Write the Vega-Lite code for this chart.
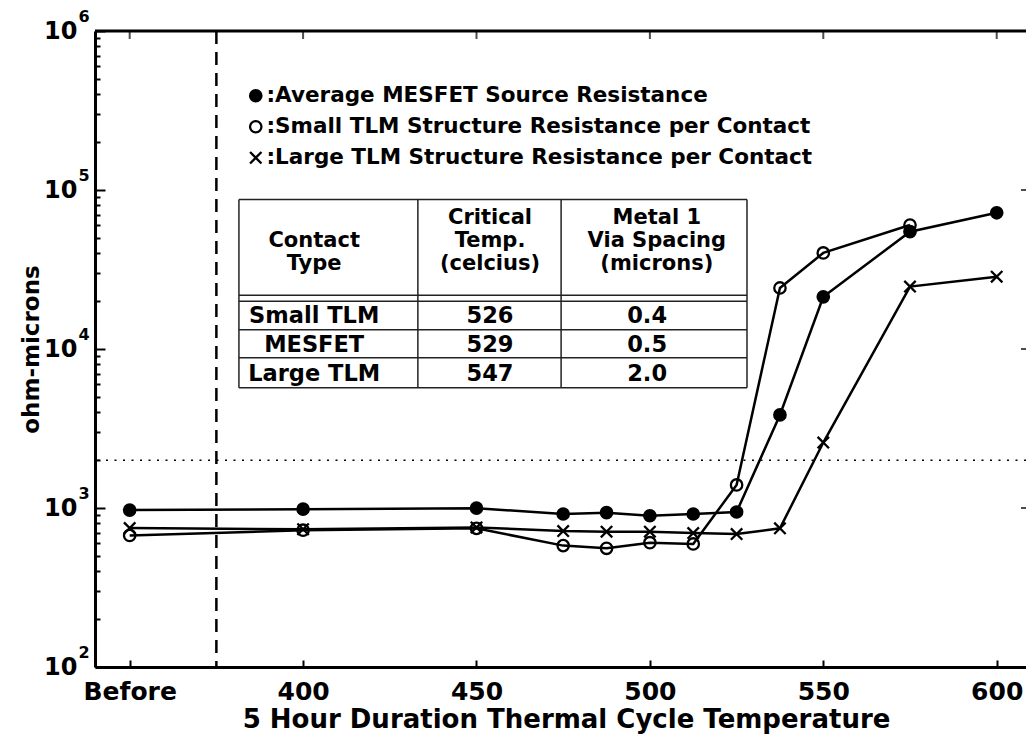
{
  "$schema": "https://vega.github.io/schema/vega-lite/v6.json",
  "width": 931,
  "height": 636,
  "autosize": {"type": "none"},
  "padding": {"left": 95, "top": 31, "right": 0, "bottom": 67},
  "background": "white",
  "config": {"view": {"stroke": null}, "font": "DejaVu Sans"},
  "datasets": {
    "series": [
      {"series": "Average MESFET Source Resistance", "temp": 350, "ohm": 970},
      {"series": "Average MESFET Source Resistance", "temp": 400, "ohm": 983},
      {"series": "Average MESFET Source Resistance", "temp": 450, "ohm": 998},
      {"series": "Average MESFET Source Resistance", "temp": 475, "ohm": 917},
      {"series": "Average MESFET Source Resistance", "temp": 487.5, "ohm": 935},
      {"series": "Average MESFET Source Resistance", "temp": 500, "ohm": 894},
      {"series": "Average MESFET Source Resistance", "temp": 512.5, "ohm": 917},
      {"series": "Average MESFET Source Resistance", "temp": 525, "ohm": 944},
      {"series": "Average MESFET Source Resistance", "temp": 537.5, "ohm": 3850},
      {"series": "Average MESFET Source Resistance", "temp": 550, "ohm": 21300},
      {"series": "Average MESFET Source Resistance", "temp": 575, "ohm": 54700},
      {"series": "Average MESFET Source Resistance", "temp": 600, "ohm": 71900},
      {"series": "Small TLM Structure Resistance per Contact", "temp": 350, "ohm": 672},
      {"series": "Small TLM Structure Resistance per Contact", "temp": 400, "ohm": 725},
      {"series": "Small TLM Structure Resistance per Contact", "temp": 450, "ohm": 745},
      {"series": "Small TLM Structure Resistance per Contact", "temp": 475, "ohm": 580},
      {"series": "Small TLM Structure Resistance per Contact", "temp": 487.5, "ohm": 558},
      {"series": "Small TLM Structure Resistance per Contact", "temp": 500, "ohm": 605},
      {"series": "Small TLM Structure Resistance per Contact", "temp": 512.5, "ohm": 594},
      {"series": "Small TLM Structure Resistance per Contact", "temp": 525, "ohm": 1396},
      {"series": "Small TLM Structure Resistance per Contact", "temp": 537.5, "ohm": 24200},
      {"series": "Small TLM Structure Resistance per Contact", "temp": 550, "ohm": 40200},
      {"series": "Small TLM Structure Resistance per Contact", "temp": 575, "ohm": 60200},
      {"series": "Large TLM Structure Resistance per Contact", "temp": 350, "ohm": 748},
      {"series": "Large TLM Structure Resistance per Contact", "temp": 400, "ohm": 735},
      {"series": "Large TLM Structure Resistance per Contact", "temp": 450, "ohm": 755},
      {"series": "Large TLM Structure Resistance per Contact", "temp": 475, "ohm": 716},
      {"series": "Large TLM Structure Resistance per Contact", "temp": 487.5, "ohm": 710},
      {"series": "Large TLM Structure Resistance per Contact", "temp": 500, "ohm": 710},
      {"series": "Large TLM Structure Resistance per Contact", "temp": 512.5, "ohm": 696},
      {"series": "Large TLM Structure Resistance per Contact", "temp": 525, "ohm": 686},
      {"series": "Large TLM Structure Resistance per Contact", "temp": 537.5, "ohm": 745},
      {"series": "Large TLM Structure Resistance per Contact", "temp": 550, "ohm": 2580},
      {"series": "Large TLM Structure Resistance per Contact", "temp": 575, "ohm": 24700},
      {"series": "Large TLM Structure Resistance per Contact", "temp": 600, "ohm": 28500}
    ],
    "table": [
      {"contact": "Small TLM", "critical": "526", "spacing": "0.4"},
      {"contact": "MESFET", "critical": "529", "spacing": "0.5"},
      {"contact": "Large TLM", "critical": "547", "spacing": "2.0"}
    ],
    "xticks": [{"t": 350}, {"t": 400}, {"t": 450}, {"t": 500}, {"t": 550}, {"t": 600}],
    "rticks": [{"v": 1000}, {"v": 10000}, {"v": 100000}],
    "decades": [
      {"v": 100, "e": "2"}, {"v": 1000, "e": "3"}, {"v": 10000, "e": "4"},
      {"v": 100000, "e": "5"}, {"v": 1000000, "e": "6"}
    ]
  },
  "resolve": {"scale": {"y": "independent"}},
  "layer": [
    {
      "layer": [
        {
          "data": {"name": "series"},
          "mark": {"type": "line", "color": "black", "strokeWidth": 2.5},
          "encoding": {
            "x": {
              "field": "temp", "type": "quantitative",
              "scale": {"domain": [340, 608.45], "nice": false, "zero": false},
              "axis": {
                "values": [350, 400, 450, 500, 550, 600],
                "labelExpr": "datum.value == 350 ? 'Before' : datum.label",
                "title": "5 Hour Duration Thermal Cycle Temperature",
                "grid": false,
                "domainColor": "black", "domainWidth": 3,
                "tickColor": "black", "tickWidth": 2, "tickSize": -7,
                "labelPadding": 19,
                "labelFont": "DejaVu Sans", "labelFontWeight": "bold", "labelFontSize": 25,
                "labelColor": "black", "labelFlush": false, "labelOverlap": false,
                "titleFont": "DejaVu Sans", "titleFontWeight": "bold", "titleFontSize": 26,
                "titleColor": "black", "titleX": 471, "titleY": 52, "titleBaseline": "middle"
              }
            },
            "y": {
              "field": "ohm", "type": "quantitative",
              "scale": {"type": "log", "domain": [100, 1000000], "nice": false},
              "axis": {
                "values": [100, 200, 300, 400, 500, 600, 700, 800, 900,
                           1000, 2000, 3000, 4000, 5000, 6000, 7000, 8000, 9000,
                           10000, 20000, 30000, 40000, 50000, 60000, 70000, 80000, 90000,
                           100000, 200000, 300000, 400000, 500000, 600000, 700000, 800000, 900000, 1000000],
                "labelExpr": "indexof([100,1000,10000,100000,1000000], datum.value) >= 0 ? '10' : ''",
                "title": "ohm-microns",
                "grid": false,
                "domainColor": "black", "domainWidth": 3,
                "tickColor": "black", "tickWidth": 2,
                "tickSize": {"condition": {"test": "indexof([100,1000,10000,100000,1000000], datum.value) >= 0", "value": -10}, "value": -5},
                "labelPadding": 28,
                "labelFont": "DejaVu Sans", "labelFontWeight": "bold", "labelFontSize": 24,
                "labelColor": "black", "labelFlush": false, "labelOverlap": false,
                "titleFont": "DejaVu Sans", "titleFontWeight": "bold", "titleFontSize": 23,
                "titleColor": "black", "titleAngle": -90, "titleX": -64, "titleY": 318,
                "titleBaseline": "middle", "titleAlign": "center"
              }
            },
            "detail": {"field": "series", "type": "nominal"}
          }
        },
        {
          "data": {"name": "series"},
          "mark": {"type": "point", "strokeWidth": 2.3, "size": 130, "opacity": 1},
          "encoding": {
            "x": {"field": "temp", "type": "quantitative"},
            "y": {"field": "ohm", "type": "quantitative"},
            "shape": {
              "field": "series", "type": "nominal",
              "scale": {
                "domain": ["Average MESFET Source Resistance", "Small TLM Structure Resistance per Contact", "Large TLM Structure Resistance per Contact"],
                "range": ["circle", "circle", "M-1,-1L1,1M1,-1L-1,1"]
              },
              "legend": {
                "title": null, "orient": "none", "legendX": 150, "legendY": 54,
                "labelFont": "DejaVu Sans", "labelFontWeight": "bold", "labelFontSize": 21.5,
                "labelColor": "black", "labelExpr": "':' + datum.label", "labelLimit": 2000,
                "symbolSize": 130, "symbolStrokeWidth": 2.3,
                "rowPadding": 8, "labelOffset": 0, "padding": 0
              }
            },
            "fill": {
              "field": "series", "type": "nominal",
              "scale": {
                "domain": ["Average MESFET Source Resistance", "Small TLM Structure Resistance per Contact", "Large TLM Structure Resistance per Contact"],
                "range": ["black", "transparent", "transparent"]
              },
              "legend": {
                "title": null, "orient": "none", "legendX": 150, "legendY": 54,
                "labelFont": "DejaVu Sans", "labelFontWeight": "bold", "labelFontSize": 21.5,
                "labelColor": "black", "labelExpr": "':' + datum.label", "labelLimit": 2000,
                "symbolSize": 130, "symbolStrokeWidth": 2.3,
                "rowPadding": 8, "labelOffset": 0, "padding": 0
              }
            },
            "stroke": {
              "field": "series", "type": "nominal",
              "scale": {
                "domain": ["Average MESFET Source Resistance", "Small TLM Structure Resistance per Contact", "Large TLM Structure Resistance per Contact"],
                "range": ["black", "black", "black"]
              },
              "legend": {
                "title": null, "orient": "none", "legendX": 150, "legendY": 54,
                "labelFont": "DejaVu Sans", "labelFontWeight": "bold", "labelFontSize": 21.5,
                "labelColor": "black", "labelExpr": "':' + datum.label", "labelLimit": 2000,
                "symbolSize": 130, "symbolStrokeWidth": 2.3,
                "rowPadding": 8, "labelOffset": 0, "padding": 0
              }
            }
          }
        },
        {
          "data": {"name": "xticks"},
          "mark": {"type": "tick", "orient": "vertical", "size": 8, "thickness": 2, "color": "black", "yOffset": 4},
          "encoding": {"x": {"field": "t", "type": "quantitative"}, "y": {"datum": 1000000}}
        },
        {
          "data": {"name": "rticks"},
          "mark": {"type": "tick", "orient": "horizontal", "size": 10, "thickness": 2, "color": "black"},
          "encoding": {"y": {"field": "v", "type": "quantitative"}, "x": {"datum": 608.45}}
        },
        {
          "data": {"name": "decades"},
          "mark": {"type": "text", "font": "DejaVu Sans", "fontWeight": "bold", "fontSize": 16, "color": "black", "align": "center", "baseline": "middle", "dx": -11, "dy": -14},
          "encoding": {"x": {"datum": 340}, "y": {"field": "v", "type": "quantitative"}, "text": {"field": "e"}}
        },
        {
          "data": {"values": [{}]},
          "layer": [
            {
              "mark": {"type": "rule", "color": "black", "strokeWidth": 2.5, "strokeDash": [13, 8]},
              "encoding": {"x": {"datum": 375}}
            },
            {
              "mark": {"type": "rule", "color": "black", "strokeWidth": 1.5, "strokeDash": [2, 6.5]},
              "encoding": {"y": {"datum": 2000}}
            },
            {
              "mark": {"type": "rule", "color": "black", "strokeWidth": 3},
              "encoding": {"y": {"datum": 1000000}}
            },
            {"mark": {"type": "rule", "color": "#222", "strokeWidth": 1.5}, "encoding": {"x": {"datum": 381.5}, "x2": {"datum": 528}, "y": {"datum": 87000}}},
            {"mark": {"type": "rule", "color": "#222", "strokeWidth": 1.5}, "encoding": {"x": {"datum": 381.5}, "x2": {"datum": 528}, "y": {"datum": 21800}}},
            {"mark": {"type": "rule", "color": "#222", "strokeWidth": 1.5}, "encoding": {"x": {"datum": 381.5}, "x2": {"datum": 528}, "y": {"datum": 20000}}},
            {"mark": {"type": "rule", "color": "#222", "strokeWidth": 1.5}, "encoding": {"x": {"datum": 381.5}, "x2": {"datum": 528}, "y": {"datum": 13200}}},
            {"mark": {"type": "rule", "color": "#222", "strokeWidth": 1.5}, "encoding": {"x": {"datum": 381.5}, "x2": {"datum": 528}, "y": {"datum": 8800}}},
            {"mark": {"type": "rule", "color": "#222", "strokeWidth": 1.5}, "encoding": {"x": {"datum": 381.5}, "x2": {"datum": 528}, "y": {"datum": 5700}}},
            {"mark": {"type": "rule", "color": "#222", "strokeWidth": 1.5}, "encoding": {"x": {"datum": 381.5}, "y": {"datum": 5700}, "y2": {"datum": 87000}}},
            {"mark": {"type": "rule", "color": "#222", "strokeWidth": 1.5}, "encoding": {"x": {"datum": 433.1}, "y": {"datum": 5700}, "y2": {"datum": 87000}}},
            {"mark": {"type": "rule", "color": "#222", "strokeWidth": 1.5}, "encoding": {"x": {"datum": 474.4}, "y": {"datum": 5700}, "y2": {"datum": 87000}}},
            {"mark": {"type": "rule", "color": "#222", "strokeWidth": 1.5}, "encoding": {"x": {"datum": 528}, "y": {"datum": 5700}, "y2": {"datum": 87000}}},
            {
              "mark": {"type": "text", "font": "DejaVu Sans", "fontWeight": "bold", "fontSize": 21, "color": "black", "align": "center", "baseline": "top", "lineBreak": "\n", "lineHeight": 23},
              "encoding": {"x": {"datum": 403.2}, "y": {"datum": 55950}, "text": {"value": "Contact\nType"}}
            },
            {
              "mark": {"type": "text", "font": "DejaVu Sans", "fontWeight": "bold", "fontSize": 21, "color": "black", "align": "center", "baseline": "top", "lineBreak": "\n", "lineHeight": 23},
              "encoding": {"x": {"datum": 453.9}, "y": {"datum": 78060}, "text": {"value": "Critical\nTemp.\n(celcius)"}}
            },
            {
              "mark": {"type": "text", "font": "DejaVu Sans", "fontWeight": "bold", "fontSize": 21, "color": "black", "align": "center", "baseline": "top", "lineBreak": "\n", "lineHeight": 23},
              "encoding": {"x": {"datum": 502}, "y": {"datum": 78060}, "text": {"value": "Metal 1\nVia Spacing\n(microns)"}}
            }
          ]
        }
      ]
    },
    {
      "data": {"name": "table"},
      "layer": [
        {
          "mark": {"type": "text", "font": "DejaVu Sans", "fontWeight": "bold", "fontSize": 22.5, "color": "black", "align": "center", "baseline": "middle"},
          "encoding": {
            "x": {"datum": 403.2},
            "y": {"field": "contact", "type": "nominal", "scale": {"type": "point", "domain": ["Small TLM", "MESFET", "Large TLM"], "range": [285, 343], "padding": 0}, "axis": null},
            "text": {"field": "contact"}
          }
        },
        {
          "mark": {"type": "text", "font": "DejaVu Sans", "fontWeight": "bold", "fontSize": 22.5, "color": "black", "align": "center", "baseline": "middle"},
          "encoding": {
            "x": {"datum": 453.9},
            "y": {"field": "contact", "type": "nominal"},
            "text": {"field": "critical"}
          }
        },
        {
          "mark": {"type": "text", "font": "DejaVu Sans", "fontWeight": "bold", "fontSize": 22.5, "color": "black", "align": "center", "baseline": "middle"},
          "encoding": {
            "x": {"datum": 499.2},
            "y": {"field": "contact", "type": "nominal"},
            "text": {"field": "spacing"}
          }
        }
      ]
    }
  ]
}
